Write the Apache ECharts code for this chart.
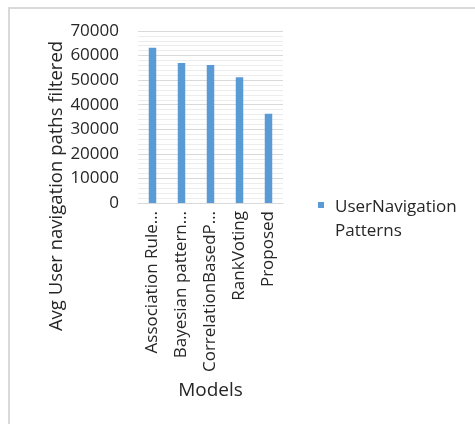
<!DOCTYPE html>
<html>
<head>
<meta charset="utf-8">
<script src="https://cdn.jsdelivr.net/npm/echarts@6/dist/echarts.min.js"></script>
<style>
html,body{margin:0;padding:0;background:#fff;}
#frame{position:absolute;left:8px;top:7px;width:467px;height:417px;border-left:2px solid #d9d9d9;border-top:2px solid #d9d9d9;box-sizing:border-box;}
#chart{position:absolute;left:0;top:0;width:475px;height:424px;}
</style>
</head>
<body>
<div id="frame"></div>
<div id="chart"></div>
<script>
const categories = ["Association Rule\u2026", "Bayesian pattern\u2026", "CorrelationBasedP\u2026", "RankVoting", "Proposed"];
const seriesName = "UserNavigation Patterns";
const values = [63200, 57000, 56200, 51200, 36300];
const yTicks = [0, 10000, 20000, 30000, 40000, 50000, 60000, 70000];

const chart = echarts.init(document.getElementById('chart'), null, {renderer: 'canvas'});
const font = "'Open Sans', sans-serif";
chart.setOption({
  animation: false,
  backgroundColor: 'transparent',
  grid: {left: 138, right: 192, top: 31, bottom: 221, containLabel: false},
  legend: {
    show: true,
    left: 318, top: 195,
    padding: 0,
    orient: 'vertical',
    icon: 'path://M0,0h6v6h-6z M12,34h0.01v0.01z',
    itemWidth: 12, itemHeight: 34,
    formatter: n => n.replace(' ', '\n'),
    textStyle: {fontFamily: font, fontSize: 17, color: '#262626', lineHeight: 24}
  },
  xAxis: {
    type: 'category',
    data: categories,
    name: 'Models',
    nameLocation: 'middle',
    nameGap: 178,
    nameTextStyle: {fontFamily: font, fontSize: 19, color: '#262626'},
    axisLine: {show: true, lineStyle: {color: '#d9d9d9', width: 1}},
    axisTick: {show: false},
    axisLabel: {rotate: 90, margin: 8, fontFamily: font, fontSize: 17, color: '#262626', interval: 0}
  },
  yAxis: {
    type: 'value',
    min: yTicks[0], max: yTicks[yTicks.length - 1], interval: 10000,
    name: 'Avg User navigation paths filtered',
    nameLocation: 'middle',
    nameGap: 72,
    nameTextStyle: {fontFamily: font, fontSize: 18.5, color: '#262626', padding: [0, 138, 0, 0]},
    axisLine: {show: false},
    axisTick: {show: false},
    axisLabel: {margin: 19, fontFamily: font, fontSize: 17, color: '#262626', formatter: v => String(v)},
    splitLine: {show: true, lineStyle: {color: '#d9d9d9', width: 1}},
    minorTick: {show: false, splitNumber: 5},
    minorSplitLine: {show: true, lineStyle: {color: '#ececec', width: 1}}
  },
  series: [{
    name: seriesName,
    type: 'bar',
    data: values,
    barWidth: 7.5,
    itemStyle: {color: '#5b9bd5'}
  }]
});
</script>
</body>
</html>
